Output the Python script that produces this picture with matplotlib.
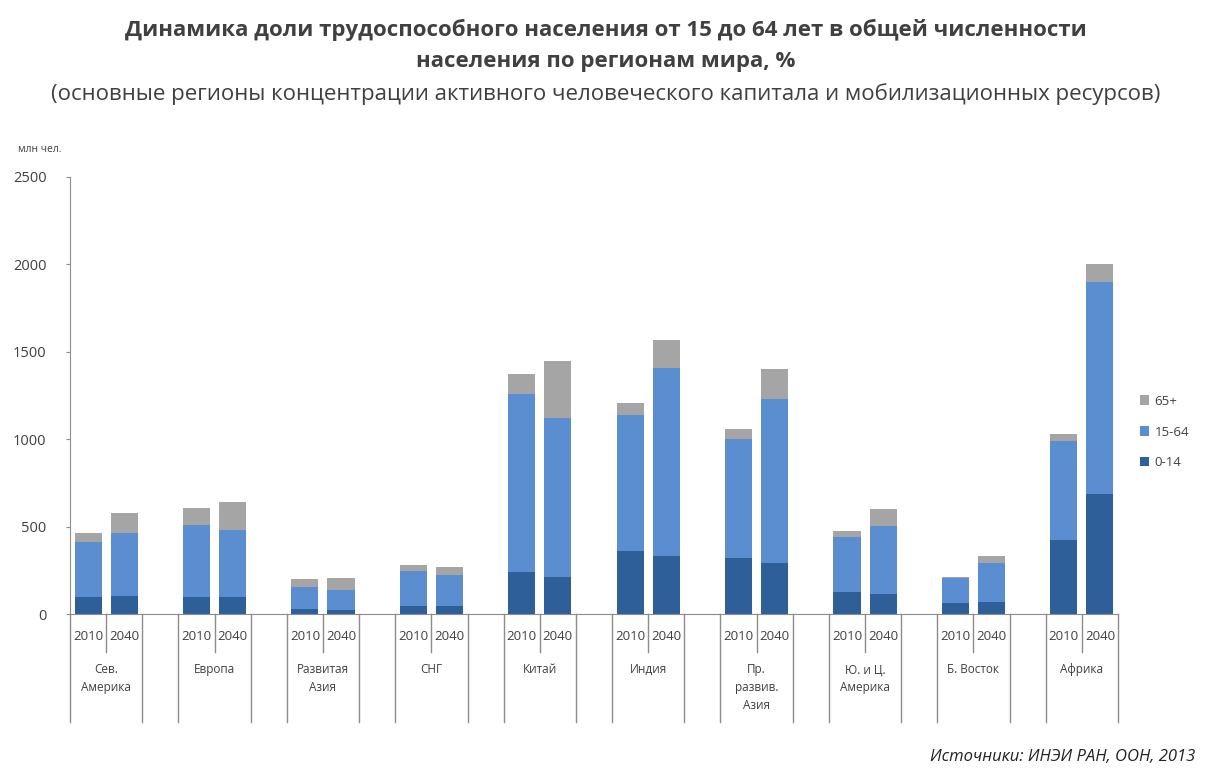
import matplotlib
matplotlib.use("Agg")
import matplotlib.pyplot as plt
import matplotlib.transforms as mtransforms

plt.rcParams['font.family'] = ['Open Sans', 'DejaVu Sans']

# regions (two years each)
regions = ["Сев.\nАмерика", "Европа", "Развитая\nАзия", "СНГ", "Китай",
           "Индия", "Пр.\nразвив.\nАзия", "Ю. и Ц.\nАмерика", "Б. Восток", "Африка"]
years = ["2010", "2040"]

# cumulative values, mln people: [2010, 2040] per region
age_0_14 = [[99, 103], [99, 97], [27, 24], [48, 44], [242, 210],
            [360, 332], [318, 290], [128, 114], [61, 67], [423, 686]]
top_15_64 = [[414, 465], [509, 480], [156, 137], [248, 223], [1257, 1123],
             [1138, 1409], [999, 1228], [442, 505], [204, 290], [990, 1901]]
top_total = [[465, 580], [608, 639], [198, 204], [280, 271], [1371, 1447],
             [1209, 1568], [1057, 1400], [477, 601], [210, 332], [1030, 2000]]

c_young = "#2f5f99"
c_work = "#5a8ed0"
c_old = "#a5a5a5"
txt = "#404040"
axc = "#8c8c8c"

fig = plt.figure(figsize=(12.11, 7.71), dpi=100)
ax = fig.add_axes([70 / 1211, 157 / 771, 1048 / 1211, 437 / 771])

xs, y0, y1, y2 = [], [], [], []
for g in range(len(regions)):
    for j in range(2):
        xs.append(g * 3 + j)
        y0.append(age_0_14[g][j])
        y1.append(top_15_64[g][j] - age_0_14[g][j])
        y2.append(top_total[g][j] - top_15_64[g][j])

w = 0.75
ax.bar(xs, y0, w, color=c_young, label="0-14")
ax.bar(xs, y1, w, bottom=y0, color=c_work, label="15-64")
ax.bar(xs, y2, w, bottom=[a + b for a, b in zip(y0, y1)], color=c_old, label="65+")

ax.set_xlim(-0.5, 3 * len(regions) - 1.5)
ax.set_ylim(0, 2500)
ax.set_yticks(range(0, 2501, 500))
ax.tick_params(axis='y', colors=axc, labelcolor=txt, labelsize=10.5, length=3, pad=14)
ax.set_xticks([])
for s in ["top", "right"]:
    ax.spines[s].set_visible(False)
ax.spines["left"].set_color(axc)
ax.spines["bottom"].set_color(axc)

# multi-level category axis
trans = mtransforms.blended_transform_factory(ax.transData, fig.transFigure)
long_bottom = (771 - 722) / 771
short_bottom = (771 - 652) / 771
axis_y = 157 / 771
for g, name in enumerate(regions):
    left = g * 3 - 0.5
    for xb in (left, left + 2):
        ax.plot([xb, xb], [axis_y, long_bottom], color=axc, lw=1, transform=trans, clip_on=False)
    ax.plot([left + 1, left + 1], [axis_y, short_bottom], color=axc, lw=1, transform=trans, clip_on=False)
    for j, yr in enumerate(years):
        ax.text(g * 3 + j, (771 - 636) / 771, yr, transform=trans, ha='center', va='center',
                fontsize=9.5, color=txt)
    ax.text(g * 3 + 0.5, (771 - 663) / 771, name, transform=trans, ha='center', va='top',
            fontsize=8.5, color=txt, linespacing=1.5)

fig.text(18 / 1211, (771 - 150) / 771, "млн чел.", fontsize=7.5, color=txt, va='center')

fig.text(0.5, (771 - 30) / 771,
         "Динамика доли трудоспособного населения от 15 до 64 лет в общей численности",
         ha='center', va='center', fontsize=16, fontweight='bold', color=txt)
fig.text(0.5, (771 - 61) / 771, "населения по регионам мира, %",
         ha='center', va='center', fontsize=16, fontweight='bold', color=txt)
fig.text(0.5, (771 - 94) / 771,
         "(основные регионы концентрации активного человеческого капитала и мобилизационных ресурсов)",
         ha='center', va='center', fontsize=16, color=txt)

fig.text(1195 / 1211, (771 - 757) / 771, "Источники: ИНЭИ РАН, ООН, 2013",
         ha='right', va='center', fontsize=12, style='italic', color="#222222")

handles, labels = ax.get_legend_handles_labels()
ax.legend(handles[::-1], labels[::-1], loc='center left', bbox_to_anchor=(1128 / 1211, (771 - 432) / 771),
          bbox_transform=fig.transFigure, frameon=False, fontsize=9.5, handlelength=0.7,
          handleheight=0.7, handletextpad=0.4, labelspacing=1.35, labelcolor=txt)

fig.savefig("out.png", dpi=100)
